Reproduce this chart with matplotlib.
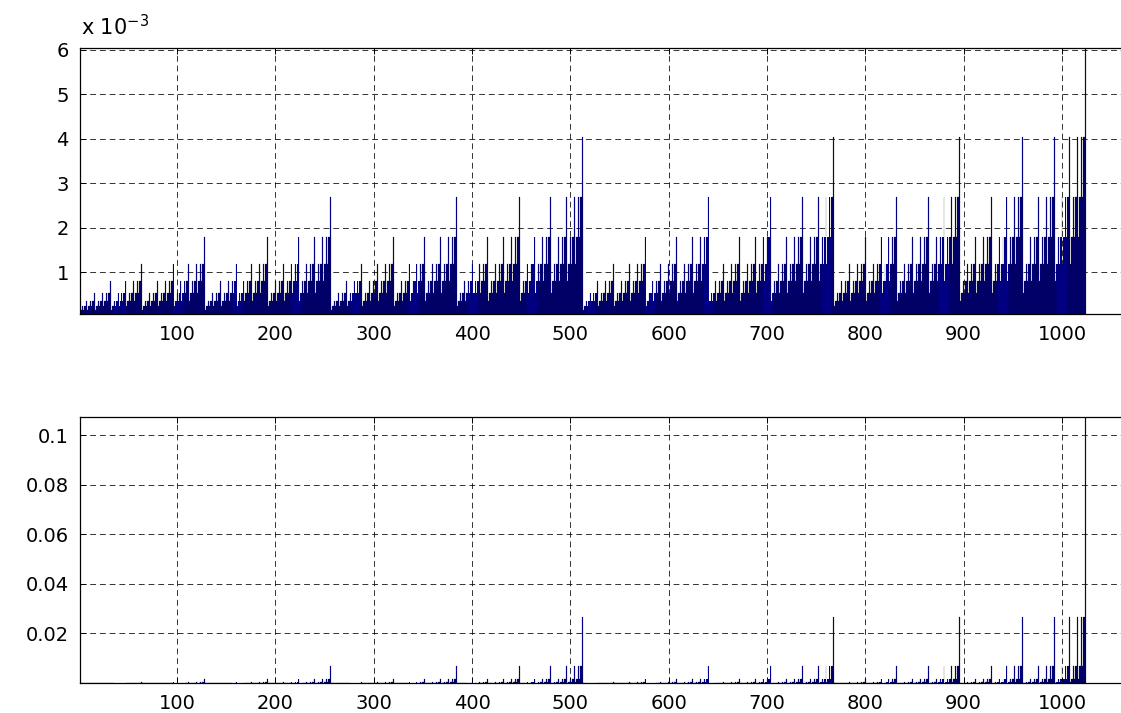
import matplotlib.pyplot as plt
import numpy as np

plt.rcParams['font.family'] = ['DejaVu Sans']

# bar heights by number of 1-bits in (index-1)
top_levels = [0.105e-3, 0.157e-3, 0.236e-3, 0.354e-3, 0.531e-3, 0.796e-3,
              1.194e-3, 1.792e-3, 2.687e-3, 4.031e-3, 6.047e-3]
bottom_levels = [1.0e-7, 4.1e-7, 1.6e-6, 6.6e-6, 2.6e-5, 1.05e-4,
                 4.19e-4, 1.68e-3, 6.71e-3, 0.02684, 0.1074]

n_bars = 1024
x = np.arange(1, n_bars + 1)
ones = np.array([bin(i - 1).count('1') for i in x])
top_vals = np.array(top_levels)[ones]
bottom_vals = np.array(bottom_levels)[ones]

x_ticks = [100, 200, 300, 400, 500, 600, 700, 800, 900, 1000]
top_yticks = [1e-3, 2e-3, 3e-3, 4e-3, 5e-3, 6e-3]
top_ylabels = ['1', '2', '3', '4', '5', '6']
bottom_yticks = [0.02, 0.04, 0.06, 0.08, 0.1]
bottom_ylabels = ['0.02', '0.04', '0.06', '0.08', '0.1']

W, H = 1121, 713
fig = plt.figure(figsize=(W / 100, H / 100), dpi=100)

x0, x1 = 1.3, 1100
px_per_unit = 0.9833
left_px = 78.7 + x0 * px_per_unit
right_px = 78.7 + x1 * px_per_unit


def make_axes(top_px, bot_px):
    return fig.add_axes([left_px / W, 1 - bot_px / H,
                         (right_px - left_px) / W, (bot_px - top_px) / H])


def style(ax, vals, ylim, yticks, ylabels):
    # navy fill, then thin black outlines on top
    ax.bar(x, vals, width=1.0, color='#0000a0', linewidth=0,
           antialiased=False, zorder=2)
    ax.bar(x, vals, width=0.8, fill=False, edgecolor='black',
           linewidth=0.14, zorder=3)
    ax.set_xlim(x0, x1)
    ax.set_ylim(*ylim)
    ax.set_xticks(x_ticks)
    ax.set_yticks(yticks)
    ax.set_yticklabels(ylabels)
    ax.grid(True, color='black', linestyle=(0, (6, 4)), linewidth=0.7,
            alpha=0.8, zorder=0)
    ax.tick_params(direction='in', length=4, labelsize=14, width=0.7,
                   top=True, right=True, pad=8)
    ax.spines['right'].set_visible(False)
    for s in ['left', 'top', 'bottom']:
        ax.spines[s].set_linewidth(0.9)


ax1 = make_axes(48, 314)
style(ax1, top_vals, (0.06e-3, 6.04e-3), top_yticks, top_ylabels)
fig.text(81 / W, 1 - 35 / H, r'x 10$^{-3}$', fontsize=15, ha='left',
         va='baseline')

ax2 = make_axes(417, 683)
style(ax2, bottom_vals, (0, 0.1074), bottom_yticks, bottom_ylabels)

fig.savefig('out.png', dpi=100)
